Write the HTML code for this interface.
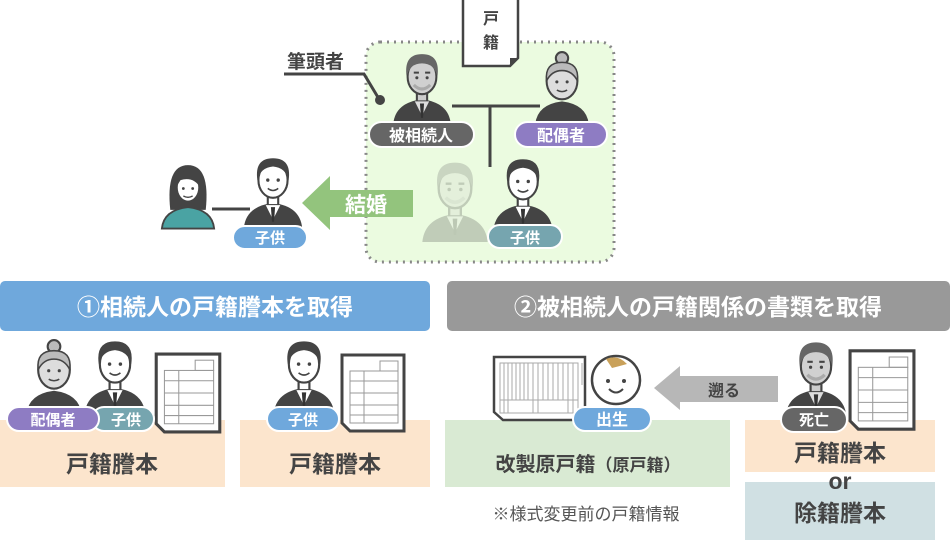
<!DOCTYPE html>
<html><head><meta charset="utf-8"><style>
html,body{margin:0;padding:0;background:#fff;}
svg{display:block;font-family:"Liberation Sans","Noto Sans CJK JP",sans-serif;}
</style></head><body>
<svg width="950" height="540" viewBox="0 0 950 540" xmlns="http://www.w3.org/2000/svg">
<defs>
<symbol id="man" viewBox="0 0 60 72">
 <path d="M2 72 Q4 51 30 48 Q56 51 58 72 Z" fill="#444"/>
 <rect x="25" y="38" width="10" height="12" fill="#fff" stroke="#444" stroke-width="2"/>
 <polygon points="23,50 30,64 37,50" fill="#fff"/>
 <polygon points="28,52 32,52 31,66 29,66" fill="#333"/>
 <ellipse cx="30" cy="26" rx="14" ry="17" fill="#fff" stroke="#444" stroke-width="2"/>
 <path d="M15 26 Q12 5 30 5 Q48 5 45 26 Q42 14 30 13 Q18 14 15 26 Z" fill="#444"/>
 <circle cx="25" cy="26" r="1.6" fill="#444"/><circle cx="35" cy="26" r="1.6" fill="#444"/>
 <path d="M25 34 Q30 38 35 34" stroke="#444" stroke-width="1.5" fill="none"/>
</symbol>
<symbol id="oldman" viewBox="0 0 60 72">
 <path d="M2 72 Q4 51 30 48 Q56 51 58 72 Z" fill="#444"/>
 <rect x="25" y="38" width="10" height="12" fill="#ccc" stroke="#444" stroke-width="2"/>
 <polygon points="23,50 30,64 37,50" fill="#ddd"/>
 <polygon points="28,52 32,52 31,66 29,66" fill="#333"/>
 <ellipse cx="30" cy="26" rx="14" ry="17" fill="#d0d0d0" stroke="#444" stroke-width="2"/>
 <path d="M15 26 Q12 4 30 4 Q48 4 45 26 Q42 13 30 13 Q18 13 15 26 Z" fill="#666"/>
 <path d="M22 22 h5 M33 22 h5" stroke="#444" stroke-width="2"/>
 <circle cx="25" cy="27" r="1.5" fill="#444"/><circle cx="35" cy="27" r="1.5" fill="#444"/>
 <path d="M22 34 Q30 42 38 34" stroke="#aaa" stroke-width="3" fill="none"/>
</symbol>
<symbol id="granny" viewBox="0 0 60 72">
 <path d="M4 72 Q6 53 30 50 Q54 53 56 72 Z" fill="#444"/>
 <ellipse cx="30" cy="30" rx="15" ry="18" fill="#ddd" stroke="#444" stroke-width="2"/>
 <circle cx="30" cy="8" r="6" fill="#bbb" stroke="#444" stroke-width="2"/>
 <path d="M15 30 Q13 12 30 12 Q47 12 45 30 Q40 20 30 20 Q20 20 15 30 Z" fill="#bbb" stroke="#444" stroke-width="1.5"/>
 <circle cx="25" cy="31" r="1.5" fill="#444"/><circle cx="35" cy="31" r="1.5" fill="#444"/>
 <path d="M25 39 Q30 42 35 39" stroke="#444" stroke-width="1.5" fill="none"/>
</symbol>
<symbol id="woman" viewBox="0 0 60 72">
 <path d="M11 52 Q6 4 30 4 Q54 4 49 52 Z" fill="#444"/>
 <path d="M2 72 Q4 52 30 49 Q56 52 58 72 Z" fill="#4aa3a3" stroke="#444" stroke-width="2"/>
 <ellipse cx="30" cy="28" rx="12" ry="15" fill="#fff" stroke="#444" stroke-width="2"/>
 <path d="M17 28 Q18 10 30 10 Q43 10 43 28 Q36 16 22 20 Z" fill="#444"/>
 <circle cx="25" cy="29" r="1.5" fill="#444"/><circle cx="35" cy="29" r="1.5" fill="#444"/>
 <path d="M25 37 Q30 40 35 37" stroke="#444" stroke-width="1.5" fill="none"/>
</symbol>
<symbol id="doc" viewBox="0 0 66 80">
 <path d="M2 2 H64 V78 H10 L2 70 Z" fill="#fff" stroke="#444" stroke-width="3"/>
 <g stroke="#999" stroke-width="1" fill="none">
  <rect x="10" y="18" width="48" height="52"/>
  <rect x="40" y="8" width="18" height="10"/>
  <path d="M10 28 H58 M10 40 H58 M10 52 H58 M10 62 H58 M24 18 V70"/>
 </g>
</symbol>
</defs>

<rect x="366" y="42" width="248" height="220" rx="14" fill="#ebfbe0" stroke="#888" stroke-width="3" stroke-dasharray="2 5"/>
<path d="M463 0 V66 H510 L518 58 V0" fill="#fff" stroke="#444" stroke-width="2.5"/>
<path d="M510 66 L510 58 L518 58" fill="#444"/>
<text x="491" y="24" font-size="16" font-weight="bold" fill="#444" text-anchor="middle">戸</text>
<text x="491" y="48" font-size="16" font-weight="bold" fill="#444" text-anchor="middle">籍</text>

<text x="287" y="68" font-size="19" font-weight="bold" fill="#444">筆頭者</text>
<path d="M284 74 H364 L379 99" stroke="#444" stroke-width="3" fill="none"/>
<circle cx="380" cy="100" r="5" fill="#444"/>

<path d="M452 106 H540 M490 106 V167" stroke="#444" stroke-width="3" fill="none"/>

<use href="#oldman" x="388" y="50" width="68" height="74"/>
<use href="#granny" x="530" y="50" width="64" height="74"/>
<rect x="369" y="122" width="105" height="25" rx="12.5" fill="#666" stroke="#fff" stroke-width="2"/>
<text x="421" y="141" font-size="16" font-weight="bold" fill="#fff" text-anchor="middle">被相続人</text>
<rect x="515" y="122" width="92" height="25" rx="12.5" fill="#8e7cc3" stroke="#fff" stroke-width="2"/>
<text x="561" y="141" font-size="16" font-weight="bold" fill="#fff" text-anchor="middle">配偶者</text>

<use href="#oldman" x="416" y="158" width="78" height="84" opacity="0.25"/>
<use href="#man" x="488" y="154" width="70" height="76"/>
<rect x="488" y="225" width="74" height="23" rx="11.5" fill="#76a5af" stroke="#fff" stroke-width="2"/>
<text x="525" y="243" font-size="15" font-weight="bold" fill="#fff" text-anchor="middle">子供</text>

<polygon points="302,203 330,176 330,190 413,190 413,217 330,217 330,230" fill="#93c47d"/>
<text x="366" y="212" font-size="21" font-weight="bold" fill="#fff" text-anchor="middle">結婚</text>

<path d="M212 209 H250" stroke="#444" stroke-width="3"/>
<use href="#woman" x="160" y="156" width="56" height="78"/>
<use href="#man" x="240" y="153" width="66" height="75"/>
<rect x="233" y="226" width="74" height="23" rx="11.5" fill="#6fa8dc" stroke="#fff" stroke-width="2"/>
<text x="270" y="243" font-size="15" font-weight="bold" fill="#fff" text-anchor="middle">子供</text>

<rect x="0" y="281" width="430" height="50" rx="5" fill="#6fa8dc"/>
<text x="215" y="315" font-size="23" font-weight="bold" fill="#fff" text-anchor="middle">①相続人の戸籍謄本を取得</text>
<rect x="447" y="281" width="503" height="50" rx="5" fill="#999"/>
<text x="698" y="315" font-size="23" font-weight="bold" fill="#fff" text-anchor="middle">②被相続人の戸籍関係の書類を取得</text>

<rect x="0" y="420" width="225" height="67" fill="#fce5cd"/>
<rect x="240" y="420" width="190" height="67" fill="#fce5cd"/>
<rect x="445" y="420" width="285" height="67" fill="#d9ead3"/>
<rect x="745" y="420" width="190" height="52" fill="#fce5cd"/>
<rect x="745" y="482" width="190" height="58" fill="#d0e0e3"/>

<text x="112" y="472" font-size="23" font-weight="bold" fill="#444" text-anchor="middle">戸籍謄本</text>
<text x="335" y="472" font-size="23" font-weight="bold" fill="#444" text-anchor="middle">戸籍謄本</text>
<text x="588" y="471" font-size="20" font-weight="bold" fill="#444" text-anchor="middle">改製原戸籍<tspan font-size="17">（原戸籍）</tspan></text>
<text x="840" y="461" font-size="23" font-weight="bold" fill="#444" text-anchor="middle">戸籍謄本</text>
<text x="840" y="489" font-size="23" font-weight="bold" fill="#444" text-anchor="middle">or</text>
<text x="840" y="521" font-size="23" font-weight="bold" fill="#444" text-anchor="middle">除籍謄本</text>
<text x="586" y="520" font-size="17" fill="#555" text-anchor="middle">※様式変更前の戸籍情報</text>

<use href="#granny" x="22" y="338" width="64" height="76"/>
<use href="#man" x="82" y="336" width="66" height="78"/>
<use href="#doc" x="154" y="352" width="68" height="82"/>
<rect x="92" y="407" width="62" height="24" rx="12" fill="#76a5af" stroke="#fff" stroke-width="2"/>
<text x="126" y="425" font-size="15" font-weight="bold" fill="#fff" text-anchor="middle">子供</text>
<rect x="7" y="407" width="92" height="24" rx="12" fill="#8e7cc3" stroke="#fff" stroke-width="2"/>
<text x="53" y="425" font-size="15" font-weight="bold" fill="#fff" text-anchor="middle">配偶者</text>

<use href="#man" x="271" y="336" width="66" height="78"/>
<use href="#doc" x="340" y="352" width="66" height="82"/>
<rect x="267" y="407" width="72" height="24" rx="12" fill="#6fa8dc" stroke="#fff" stroke-width="2"/>
<text x="303" y="425" font-size="15" font-weight="bold" fill="#fff" text-anchor="middle">子供</text>

<path d="M494 357 H585 V420 H503 L494 412 Z" fill="#fff" stroke="#444" stroke-width="2.5"/>
<g stroke="#aaa" stroke-width="1" fill="none">
<rect x="500" y="363" width="78" height="50"/>
<path d="M504 363 V413 M508 363 V413 M512 363 V400 M516 363 V400 M520 363 V400 M524 363 V400 M528 363 V400 M533 363 V413 M538 363 V413 M543 363 V400 M548 363 V400 M553 363 V400 M558 363 V400 M563 363 V400 M568 363 V413 M573 363 V413 M500 400 H578 M582 363 V385"/>
</g>
<circle cx="616" cy="380" r="24" fill="#fff" stroke="#444" stroke-width="2.5"/>
<path d="M606 359 Q618 354 627 364 Q620 366 612 368 Z" fill="#c9a15a"/>
<circle cx="608" cy="381" r="2" fill="#444"/><circle cx="624" cy="381" r="2" fill="#444"/>
<path d="M609 389 Q616 396 623 389" stroke="#444" stroke-width="2" fill="none"/>
<rect x="573" y="407" width="78" height="24" rx="12" fill="#6fa8dc" stroke="#fff" stroke-width="2"/>
<text x="612" y="425" font-size="16" font-weight="bold" fill="#fff" text-anchor="middle">出生</text>

<polygon points="654,388 680,366 680,376 778,376 778,402 680,402 680,410" fill="#b7b7b7"/>
<text x="724" y="396" font-size="16" font-weight="bold" fill="#444" text-anchor="middle">遡る</text>

<use href="#oldman" x="783" y="338" width="66" height="78"/>
<use href="#doc" x="848" y="348" width="68" height="84"/>
<rect x="781" y="407" width="66" height="25" rx="12.5" fill="#666" stroke="#fff" stroke-width="2"/>
<text x="814" y="425" font-size="15" font-weight="bold" fill="#fff" text-anchor="middle">死亡</text>
</svg>
</body></html>
